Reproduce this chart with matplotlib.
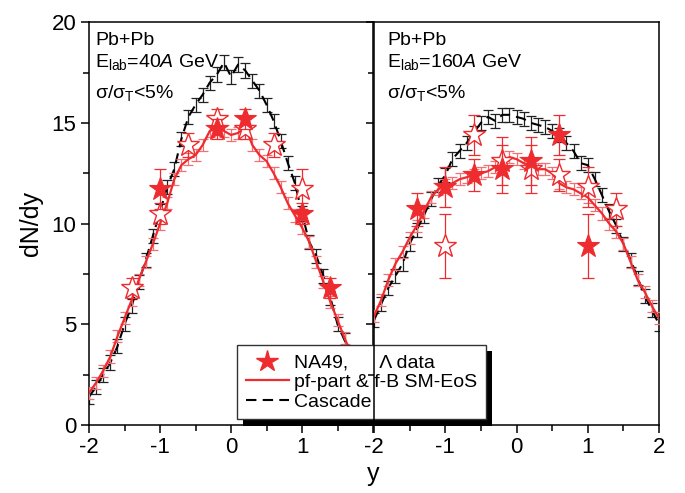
import matplotlib
matplotlib.use("Agg")
import matplotlib.pyplot as plt
import matplotlib.patheffects as pe
from matplotlib.lines import Line2D
from matplotlib.ticker import MultipleLocator
import numpy as np

plt.rcParams['font.family'] = ['Liberation Sans', 'DejaVu Sans']
plt.rcParams['axes.unicode_minus'] = False
plt.rcParams['mathtext.fontset'] = 'custom'
plt.rcParams['mathtext.rm'] = 'Liberation Sans'
plt.rcParams['mathtext.it'] = 'Liberation Sans:italic'

RED = '#ee2b2f'

# rapidity grid of the model curves
y_grid = np.round(np.arange(-2.0, 2.01, 0.1), 1)

# 40 AGeV
cascade_40 = [1.4, 1.9, 2.5, 3.1, 3.9, 5.0, 5.9, 7.1, 8.2, 9.4, 10.6,
              11.8, 12.7, 14.2, 15.3, 15.9, 16.4, 17.0, 17.4, 18.0, 17.3,
              17.9, 17.6, 17.1, 16.6, 15.9, 15.1, 14.1, 13.0, 12.0, 10.5,
              9.1, 8.4, 7.4, 6.3, 5.0, 4.2, 3.3, 2.6, 2.0, 1.4]
hydro_40 = [1.6, 2.1, 2.7, 3.4, 4.4, 5.3, 6.2, 7.2, 8.1, 9.0, 10.0,
            11.0, 12.2, 12.9, 13.2, 13.4, 13.9, 14.6, 14.7, 14.6, 14.4,
            14.5, 14.8, 13.9, 13.4, 13.1, 12.5, 11.8, 11.0, 10.4, 9.8,
            9.1, 8.1, 7.1, 6.1, 5.2, 4.3, 3.5, 2.8, 2.2, 1.7]
na49_y_40 = [-1.0, -0.2, 0.2, 1.0, 1.4]
na49_40 = [11.7, 14.7, 15.2, 10.5, 6.8]
na49_err_40 = [1.0, 0.5, 0.5, 0.5, 0.5]
open_y_40 = [1.0, 0.2, -0.2, -1.0, -1.4, -0.6, 0.6]
open_40 = [11.7, 14.7, 15.2, 10.5, 6.8, 13.9, 13.9]
open_err_40 = [1.0, 0.5, 0.5, 0.5, 0.5, 0.6, 0.6]

# 160 AGeV
cascade_160 = [5.2, 6.0, 6.8, 7.4, 8.0, 9.0, 9.7, 10.4, 11.2, 11.9, 12.4,
               13.2, 13.6, 14.0, 14.5, 15.0, 15.3, 15.1, 15.4, 15.4, 15.3,
               15.2, 15.0, 14.9, 14.8, 14.6, 14.4, 14.0, 13.6, 13.0, 12.9,
               12.2, 11.4, 10.6, 9.9, 9.0, 8.2, 7.3, 6.4, 5.7, 5.0]
hydro_160 = [5.4, 6.2, 7.2, 8.0, 8.6, 9.3, 9.9, 10.6, 11.3, 11.7, 11.9,
             12.0, 12.2, 12.3, 12.4, 12.5, 12.6, 12.8, 13.0, 13.3, 13.2,
             13.0, 12.9, 12.7, 12.7, 12.5, 12.0, 11.8, 11.7, 11.5, 11.3,
             10.9, 10.5, 10.0, 9.6, 9.0, 8.1, 7.2, 6.6, 5.9, 5.3]
na49_y_160 = [-1.4, -1.0, -0.6, -0.2, 0.2, 0.6, 1.0]
na49_160 = [10.7, 11.8, 12.4, 12.7, 13.1, 14.4, 8.9]
na49_err_160 = [0.8, 1.0, 0.8, 1.2, 1.2, 1.0, 1.6]
open_y_160 = [1.4, 1.0, 0.6, 0.2, -0.2, -0.6, -1.0]
open_160 = [10.7, 11.8, 12.4, 12.7, 13.1, 14.4, 8.9]
open_err_160 = [0.8, 1.0, 0.8, 1.2, 1.2, 1.0, 1.6]

x_ticks = [-2, -1, 0, 1, 2]


def draw_panel(ax, cascade, hydro, dy, d, derr, oy, o, oerr):
    ax.errorbar(y_grid, cascade, yerr=0.35, fmt='none', ecolor='#222222',
                elinewidth=0.9, capsize=3.5, capthick=0.9, zorder=2)
    ax.plot(y_grid, cascade, color='k', lw=1.5, ls=(0, (5, 3)), zorder=2)
    ax.errorbar(y_grid, hydro, yerr=0.3, fmt='none', ecolor='#f27074',
                elinewidth=0.9, capsize=3.5, capthick=0.9, zorder=3)
    ax.plot(y_grid, hydro, color=RED, lw=1.6, zorder=3)
    ax.errorbar(oy, o, yerr=oerr, fmt='none', ecolor=RED, elinewidth=0.9,
                capsize=4, capthick=0.9, zorder=4)
    ax.plot(oy, o, ls='none', marker='*', ms=17, mfc='white', mec=RED,
            mew=1.0, zorder=4)
    ax.errorbar(dy, d, yerr=derr, fmt='none', ecolor=RED, elinewidth=0.9,
                capsize=4, capthick=0.9, zorder=5)
    ax.plot(dy, d, ls='none', marker='*', ms=17, mfc=RED, mec=RED,
            mew=0.8, zorder=5)

    ax.set_xlim(-2, 2)
    ax.set_ylim(0, 20)
    ax.set_xticks(x_ticks)
    ax.xaxis.set_minor_locator(MultipleLocator(0.5))
    ax.set_yticks([0, 5, 10, 15, 20])
    ax.yaxis.set_minor_locator(MultipleLocator(2.5))
    ax.tick_params(which='both', direction='out', top=False, right=False,
                   width=1.1, labelsize=16, pad=3)
    ax.tick_params(which='major', length=6)
    ax.tick_params(which='minor', length=4)
    for s in ax.spines.values():
        s.set_linewidth(1.1)


fig = plt.figure(figsize=(6.85, 4.93), dpi=100)
ax1 = fig.add_axes([0.130, 0.138, 0.4146, 0.817])
ax2 = fig.add_axes([0.5460, 0.138, 0.4161, 0.817])
ax2.set_facecolor('none')

draw_panel(ax1, cascade_40, hydro_40, na49_y_40, na49_40, na49_err_40,
           open_y_40, open_40, open_err_40)
draw_panel(ax2, cascade_160, hydro_160, na49_y_160, na49_160, na49_err_160,
           open_y_160, open_160, open_err_160)

ax1.set_xticklabels(['-2', '-1', '0', '1', ''])
ax2.set_xticklabels(['-2', '-1', '0', '1', '2'])
ax2.tick_params(axis='y', labelleft=False)

ax1.set_ylabel('dN/dy', fontsize=18, labelpad=6)
fig.text(0.545, 0.025, 'y', fontsize=18, ha='center')

for ax, e in [(ax1, '40'), (ax2, '160')]:
    x0 = 0.022 if ax is ax1 else 0.046
    ax.text(x0, 0.943, 'Pb+Pb', transform=ax.transAxes, fontsize=14,
            va='baseline')
    ax.text(x0, 0.888, 'E$_{\\mathrm{lab}}$=' + e + '$\\it{A}$ GeV',
            transform=ax.transAxes, fontsize=14, va='baseline')
    ax.text(x0, 0.811, 'σ/σ$_{\\mathrm{T}}$<5%', transform=ax.transAxes,
            fontsize=14, va='baseline')

handles = [
    Line2D([], [], ls='none', marker='*', ms=16, mfc=RED, mec=RED),
    Line2D([], [], color=RED, lw=1.6),
    Line2D([], [], color='k', lw=1.5, ls=(0, (5, 3))),
]
labels = ['NA49,      Λ data', 'pf-part & f-B SM-EoS', 'Cascade']
leg = ax1.legend(handles, labels, loc='upper left',
                 bbox_to_anchor=(0.346, 0.300), bbox_transform=fig.transFigure,
                 borderaxespad=0, fontsize=14, fancybox=False,
                 edgecolor='#333333', framealpha=1, handlelength=2.2,
                 handletextpad=0.3, labelspacing=0.1, borderpad=0.45)
leg.get_frame().set_linewidth(1.0)
leg.get_frame().set_path_effects([
    pe.withSimplePatchShadow(offset=(4.5, -4.5), shadow_rgbFace='k', alpha=1)])
leg.set_zorder(10)

fig.savefig('out.png', dpi=100)
